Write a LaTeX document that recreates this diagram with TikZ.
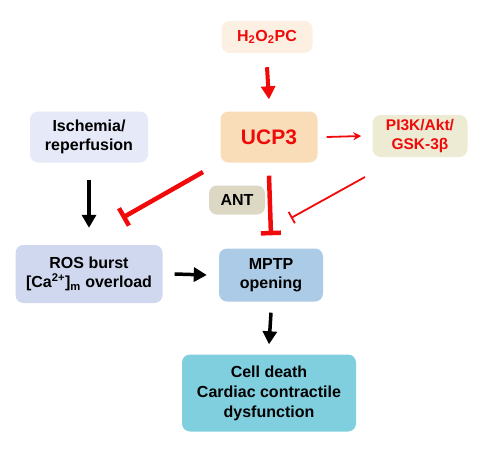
\documentclass[tikz,border=0pt]{standalone}
\usepackage{fontspec}
\setmainfont{Liberation Sans}
\usetikzlibrary{arrows.meta}
\definecolor{creamH}{HTML}{FBF0E2}
\definecolor{peachU}{HTML}{F9DDB9}
\definecolor{khakiP}{HTML}{EDEBD3}
\definecolor{lavI}{HTML}{E6E9F7}
\definecolor{tanA}{HTML}{DDD8C4}
\definecolor{blueR}{HTML}{D0D8F0}
\definecolor{blueM}{HTML}{ACCBE6}
\definecolor{cyanC}{HTML}{80CFDF}
\definecolor{redL}{HTML}{F00A0A}
\tikzset{
  box/.style={rounded corners=8pt,align=center,font=\fontsize{16}{19}\selectfont\bfseries,inner sep=0pt},
  blk/.style={line width=3.5pt,-{Triangle[width=14pt,length=13pt]}},
  redact/.style={redL,line width=4pt,-{Triangle[width=14pt,length=13pt]}},
  redthin/.style={redL,line width=1.8pt,-{Stealth[width=8pt,length=8pt]}},
  redbar/.style={redL,line width=4.5pt,-{Bar[width=20pt]}},
  redbarthin/.style={redL,line width=1.8pt,-{Bar[width=13pt]}}
}
\begin{document}
\begin{tikzpicture}[x=1pt,y=-1pt]
  \useasboundingbox (0,0) rectangle (496,459);
  % boxes
  \node[box,fill=creamH,text=redL,minimum width=91pt,minimum height=32pt] (h2o2) at (267,37) {H\textsubscript{2}O\textsubscript{2}PC};
  \node[box,fill=peachU,text=redL,minimum width=97pt,minimum height=51pt,font=\fontsize{21}{24}\selectfont\bfseries] (ucp) at (269,137) {UCP3};
  \node[box,fill=khakiP,text=redL,minimum width=95pt,minimum height=42pt,font=\fontsize{15.5}{19}\selectfont\bfseries] (pik) at (420,136) {PI3K/Akt/\\GSK-3β};
  \node[box,fill=lavI,minimum width=118pt,minimum height=51pt] (isch) at (89,137) {Ischemia/\\reperfusion};
  \node[box,fill=tanA,minimum width=56pt,minimum height=29pt] (ant) at (237,200) {ANT};
  \node[box,fill=blueR,minimum width=147pt,minimum height=58pt] (ros) at (89,274) {ROS burst\\{[}Ca\textsuperscript{2+}{]}\textsubscript{m} overload};
  \node[box,fill=blueM,minimum width=104pt,minimum height=53pt] (mptp) at (271,275) {MPTP\\opening};
  \node[box,fill=cyanC,minimum width=174pt,minimum height=77pt,font=\fontsize{16}{20}\selectfont\bfseries] (death) at (269,393) {Cell death\\Cardiac contractile\\dysfunction};
  % free ends of the slanted lines
  \coordinate (ucpl) at (203,172);
  \coordinate (rosb) at (122,218);
  \coordinate (pikb) at (365,177);
  \coordinate (mptpr) at (291,218);
  % connectors
  \draw[redact] ([yshift=-14pt]h2o2.south) -- ([yshift=12pt]ucp.north);
  \draw[redthin] ([xshift=9pt]ucp.east) -- ([xshift=-11pt]pik.west);
  \draw[redbar] ([yshift=-13pt]ucp.south) -- ([yshift=13pt]mptp.north);
  \draw[redbar] (ucpl) -- (rosb);
  \draw[redbarthin] (pikb) -- (mptpr);
  \draw[blk] ([yshift=-17pt]isch.south) -- ([yshift=17pt]ros.north);
  \draw[blk] ([xshift=12pt]ros.east) -- ([xshift=-12pt]mptp.west);
  \draw[blk] ([yshift=-11pt]mptp.south) -- ([yshift=10pt]death.north);
\end{tikzpicture}
\end{document}
